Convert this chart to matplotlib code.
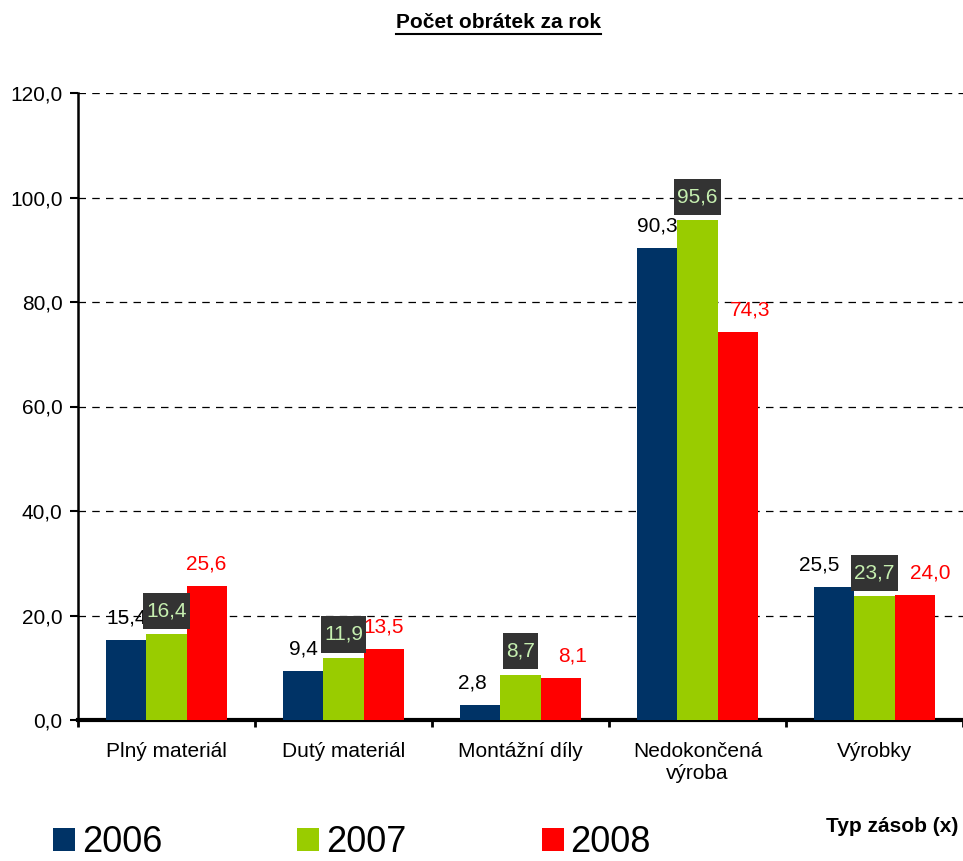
import matplotlib
matplotlib.use("Agg")
import matplotlib.pyplot as plt
from matplotlib.path import Path
import numpy as np

plt.rcParams['font.family'] = ['Liberation Sans', 'DejaVu Sans']

categories = ["Plný materiál", "Dutý materiál", "Montážní díly", "Nedokončená\nvýroba", "Výrobky"]
years = ["2006", "2007", "2008"]
v2006 = [15.4, 9.4, 2.8, 90.3, 25.5]
v2007 = [16.4, 11.9, 8.7, 95.6, 23.7]
v2008 = [25.6, 13.5, 8.1, 74.3, 24.0]
yticks = [0, 20, 40, 60, 80, 100, 120]

colors = ["#003366", "#99CC00", "#FF0000"]

# horizontal nudges (points) keeping neighbouring value labels apart
nudge_2006 = [0, 0, -6, 0, -11]
nudge_2008 = [0, 0, 9, 9, 11]

fig = plt.figure(figsize=(9.63, 8.61), dpi=100)
ax = fig.add_axes([78 / 963, 1 - 720 / 861, 885 / 963, 627 / 861])

x = np.arange(len(categories))
w = 0.226
series = [v2006, v2007, v2008]
for i, (vals, c) in enumerate(zip(series, colors)):
    ax.bar(x + (i - 1) * w, vals, width=w, color=c, zorder=3, label=years[i])

def fmt(v):
    return f"{v:.1f}".replace(".", ",")

def label_box(x0, y0, width, height, mutation_size, padx=0.15, pady=0.42):
    # rectangular box with separate horizontal and vertical padding
    px, py = padx * mutation_size, pady * mutation_size
    x0, y0 = x0 - px, y0 - py
    x1, y1 = x0 + width + 2 * px, y0 + height + 2 * py
    return Path([(x0, y0), (x1, y0), (x1, y1), (x0, y1), (x0, y0)], closed=True)

FS = 15
for xi, v, dx in zip(x - w, v2006, nudge_2006):
    ax.annotate(fmt(v), (xi, v), xytext=(dx, 9), textcoords="offset points",
                ha="center", va="bottom", fontsize=FS, color="black", zorder=4)
for xi, v in zip(x, v2007):
    ax.annotate(fmt(v), (xi, v), xytext=(0, 10), textcoords="offset points",
                ha="center", va="bottom", fontsize=FS, color="#C6EFB0", zorder=5,
                bbox=dict(boxstyle=label_box, fc="#333333", ec="none"))
for xi, v, dx in zip(x + w, v2008, nudge_2008):
    ax.annotate(fmt(v), (xi, v), xytext=(dx, 9), textcoords="offset points",
                ha="center", va="bottom", fontsize=FS, color="#FF0000", zorder=4)

ax.set_xlim(-0.5, len(categories) - 0.5)
ax.set_ylim(0, 120)
ax.set_yticks(yticks)
ax.set_yticklabels([fmt(t) for t in yticks], fontsize=FS)
ax.set_xticks(x)
ax.set_xticklabels(categories, fontsize=FS)
ax.set_xticks(np.arange(len(categories) + 1) - 0.5, minor=True)
ax.tick_params(axis="x", which="major", length=0, pad=16)
ax.tick_params(axis="x", which="minor", length=5, width=2, direction="out")
ax.tick_params(axis="y", length=6, width=1.5, direction="out", pad=5)

ax.yaxis.grid(True, color="black", linestyle=(0, (6, 5)), linewidth=0.9, zorder=1)
ax.set_axisbelow(True)
for s in ["top", "right"]:
    ax.spines[s].set_visible(False)
ax.spines["left"].set_linewidth(1.8)
ax.spines["bottom"].set_linewidth(3)

title = fig.text(0.518, 1 - 22 / 861, "Počet obrátek za rok", ha="center", va="center",
                 fontsize=15, fontweight="bold")

fig.text(958 / 963, 1 - 827 / 861, "Typ zásob (x)", ha="right", va="center",
         fontsize=15, fontweight="bold")

handles, labels = ax.get_legend_handles_labels()
fig.legend(handles, labels, loc="center left", bbox_to_anchor=(53 / 963, 1 - 843 / 861),
           ncol=3, frameon=False, prop={"size": 26},
           handlelength=0.61, handleheight=0.61,
           handletextpad=0.19, columnspacing=3.74, borderaxespad=0, borderpad=0)

# underline the title across its rendered width
fig.canvas.draw()
bb = title.get_window_extent()
y_line = (bb.y0 - 2) / fig.bbox.height
fig.add_artist(plt.Line2D([bb.x0 / fig.bbox.width, bb.x1 / fig.bbox.width], [y_line, y_line],
                          transform=fig.transFigure, color="black", linewidth=1.5))

fig.savefig("out.png", dpi=100)
